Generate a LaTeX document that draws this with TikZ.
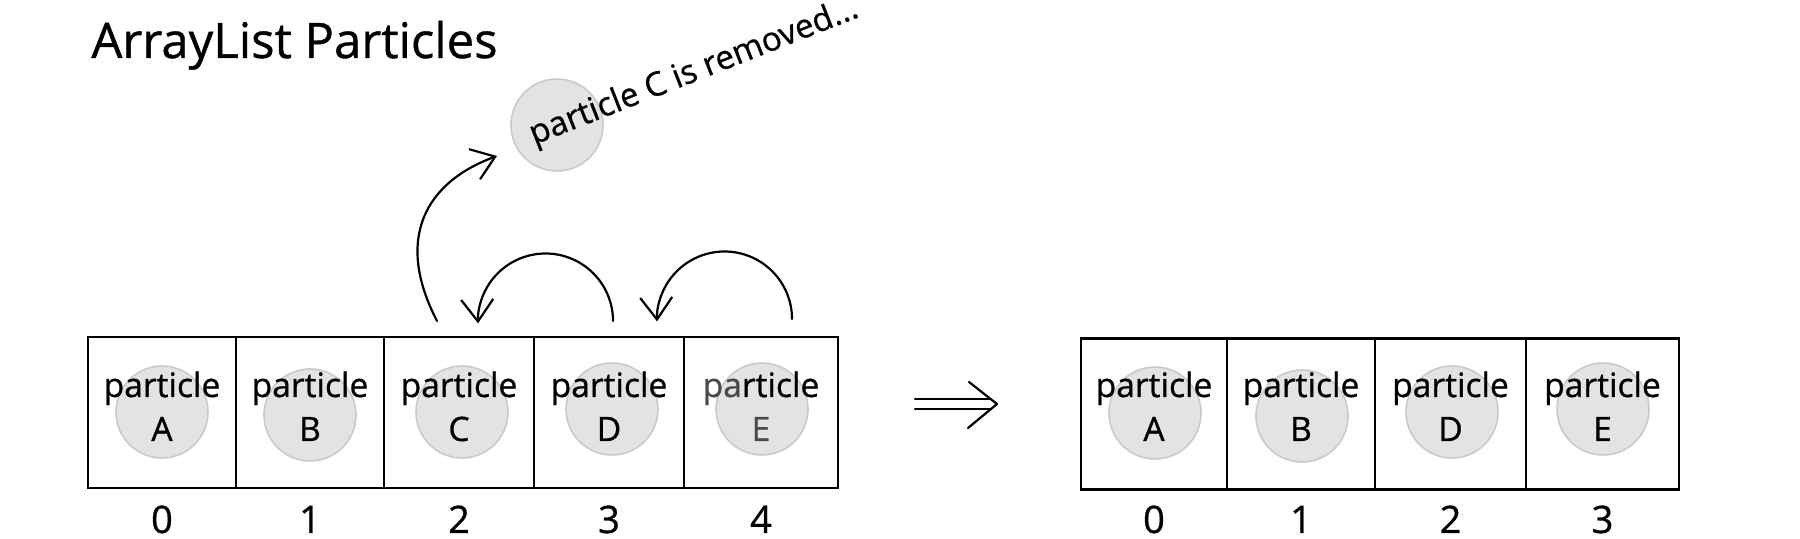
\documentclass[tikz,border=0pt]{standalone}
\usepackage{fontspec}
\setmainfont{Open Sans}[FakeBold=0.8]
\usetikzlibrary{arrows.meta}
\definecolor{ballfill}{HTML}{E3E3E3}
\definecolor{balledge}{HTML}{CACACA}
\definecolor{softink}{HTML}{4A4A4A}
\begin{document}
\begin{tikzpicture}[x=0.5pt,y=-0.5pt,
  cell/.style={draw, line width=1.3pt, minimum height=75.5pt, inner sep=0pt},
  ball/.style={circle, fill=ballfill, draw=balledge, line width=0.8pt, minimum size=46pt, inner sep=0pt},
  lbl/.style={anchor=base, inner sep=0pt, font=\fontsize{16.8}{20}\selectfont},
  idx/.style={anchor=base, inner sep=0pt, font=\fontsize{19}{22}\selectfont},
  ttl/.style={anchor=base west, inner sep=0pt, font=\fontsize{24.5}{29}\selectfont},
  rem/.style={anchor=base west, inner sep=0pt, font=\fontsize{16.6}{20}\selectfont},
  arr/.style={line width=1.1pt, line cap=round, -{Straight Barb[length=11pt,width=16pt,line width=1.1pt]}},
  ink/.style={line width=1.1pt, line cap=round, line join=round}]
\useasboundingbox (0,0) rectangle (1800,539);

% title
\node[ttl] (title) at (91,58) {ArrayList Particles};

% ---------- left array ----------
\node[cell, minimum width=74pt] (L0) at (162,412.5) {};
\node[cell, minimum width=74pt] (L1) at (310,412.5) {};
\node[cell, minimum width=75pt] (L2) at (459,412.5) {};
\node[cell, minimum width=75pt] (L3) at (609,412.5) {};
\node[cell, minimum width=77pt] (L4) at (761,412.5) {};

\node[ball] (bLA) at (162,412) {};
\node[ball] (bLB) at (310,415) {};
\node[ball] (bLC) at (462,412) {};
\node[ball] (bLD) at (612,409) {};
\node[ball] (bLE) at (762,409) {};

\node[lbl] (tLA) at (162,397) {particle};
\node[lbl] (tLB) at (310,397) {particle};
\node[lbl] (tLC) at (459,397) {particle};
\node[lbl] (tLD) at (609,397) {particle};
\node[lbl] (tLE) at (761,397) {{\color{softink}pa}rticle};
\node[lbl] (lLA) at (162,441) {A};
\node[lbl] (lLB) at (310,441) {B};
\node[lbl] (lLC) at (459,441) {C};
\node[lbl] (lLD) at (609,441) {D};
\node[lbl, text=softink] (lLE) at (761,441) {E};

\node[idx] (iL0) at (162,533) {0};
\node[idx] (iL1) at (310,533) {1};
\node[idx] (iL2) at (459,533) {2};
\node[idx] (iL3) at (609,533) {3};
\node[idx] (iL4) at (761,533) {4};

% ---------- removed particle ----------
\node[ball] (gone) at (557,125) {};
\node[rem, rotate=21.5] (goneText) at (534,145) {particle C is removed...};

% ---------- arrows ----------
\coordinate (a1s) at (437,321);
\coordinate (a1e) at (497,156);
\draw[arr] (a1s) .. controls (394,238) and (426,182) .. (a1e);

\coordinate (a2s) at (613,321);
\draw[arr] (a2s) arc[start angle=0, end angle=-182, radius=67.5];

\coordinate (a3s) at (792,319);
\draw[arr] (a3s) arc[start angle=0, end angle=-182, radius=67.5];

% ---------- implies arrow ----------
\coordinate (im1) at (915,399);
\coordinate (im2) at (915,409);
\coordinate (imT) at (997,404);
\draw[ink] (im1) -- (990,399);
\draw[ink] (im2) -- (990,409);
\draw[ink] (969,382) -- (imT) -- (968,428);

% ---------- right array ----------
\node[cell, minimum width=73pt]   (R0) at (1154,414) {};
\node[cell, minimum width=74pt]   (R1) at (1301,414) {};
\node[cell, minimum width=75.5pt] (R2) at (1450.5,414) {};
\node[cell, minimum width=76.5pt] (R3) at (1602.5,414) {};

\node[ball] (bRA) at (1155,413) {};
\node[ball] (bRB) at (1302,416) {};
\node[ball] (bRD) at (1452,412) {};
\node[ball] (bRE) at (1603,409) {};

\node[lbl] (tRA) at (1154,397) {particle};
\node[lbl] (tRB) at (1301,397) {particle};
\node[lbl] (tRD) at (1450.5,397) {particle};
\node[lbl] (tRE) at (1602.5,397) {particle};
\node[lbl] (lRA) at (1154,441) {A};
\node[lbl] (lRB) at (1301,441) {B};
\node[lbl] (lRD) at (1450.5,441) {D};
\node[lbl] (lRE) at (1602.5,441) {E};

\node[idx] (iR0) at (1154,533) {0};
\node[idx] (iR1) at (1301,533) {1};
\node[idx] (iR2) at (1450.5,533) {2};
\node[idx] (iR3) at (1602.5,533) {3};
\end{tikzpicture}
\end{document}
